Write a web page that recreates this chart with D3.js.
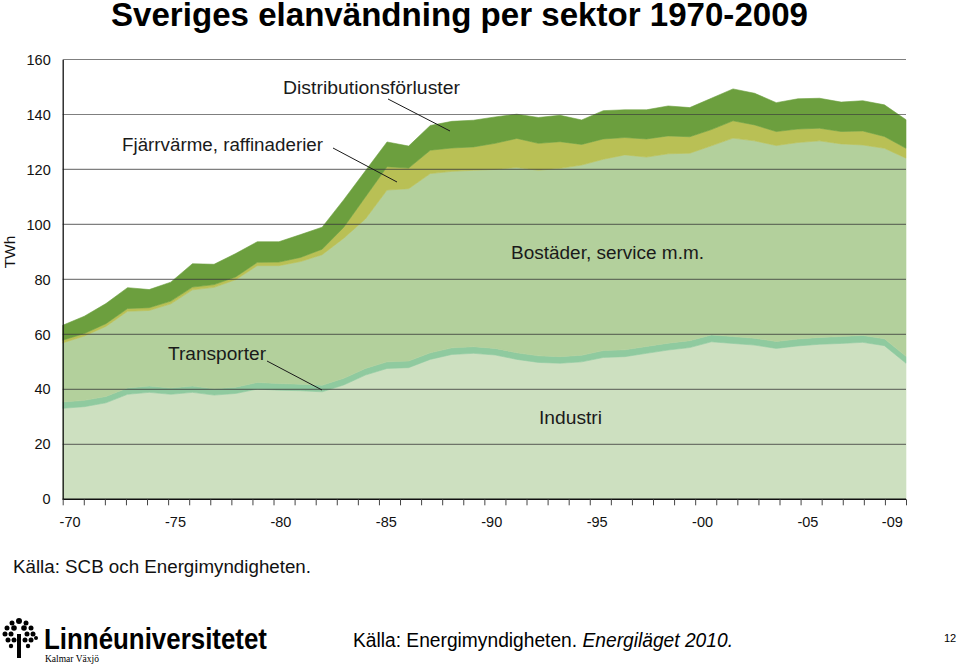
<!DOCTYPE html>
<html>
<head>
<meta charset="utf-8">
<script src="https://cdn.jsdelivr.net/npm/d3@7"></script>
<style>
  html, body { margin: 0; padding: 0; background: #fff; }
  svg { display: block; font-family: "Liberation Sans", Arial, Helvetica, sans-serif; }
</style>
</head>
<body>
<svg id="chart" width="959" height="667"></svg>
<script>
// ---------- DATA (TWh) ----------
const years = d3.range(1970, 2010);
const industri = [33.1,33.7,35.1,38.2,38.9,38.2,38.9,37.9,38.5,40.1,39.7,39.5,39.1,41.6,45.2,47.6,47.9,50.9,52.7,53.1,
                  52.5,50.9,49.8,49.5,50.0,51.6,51.9,53.1,54.3,55.2,57.3,56.7,56.1,54.9,55.8,56.4,56.7,57.1,55.9,49.5];
const transporter = [2.3,2.3,2.3,2.3,2.3,2.3,2.3,2.3,2.3,2.4,2.4,2.4,2.4,2.4,2.4,2.4,2.4,2.4,2.4,2.4,
                     2.4,2.4,2.4,2.4,2.4,2.5,2.5,2.5,2.5,2.5,2.5,2.5,2.5,2.5,2.5,2.5,2.5,2.5,2.5,2.5];
const bostader = [21.5,23.4,25.5,27.9,27.5,30.6,35.0,36.9,39.1,42.5,42.9,44.6,47.5,51.0,54.4,62.5,62.7,65.2,64.2,64.2,
                  65.1,67.4,67.5,68.5,69.2,69.6,70.9,68.9,68.9,68.2,68.8,72.2,71.8,71.3,71.5,71.5,70.1,69.3,69.3,72.1];
const fjarrvarme = [1.0,0.9,1.0,1.0,1.0,1.0,1.0,1.0,1.0,1.2,1.3,1.5,2.0,4.0,8.0,8.5,7.5,8.5,8.5,8.5,
                    9.5,10.6,9.8,9.7,7.5,7.4,6.3,6.6,6.5,6.0,5.9,6.3,5.8,5.1,4.9,4.6,4.5,5.1,4.3,3.6];
const distribution = [5.4,6.3,7.3,7.6,6.6,6.9,8.5,7.4,8.5,7.5,7.4,8.3,8.0,10.0,9.5,9.0,8.0,9.0,9.7,9.7,
                      9.6,8.8,9.4,9.6,8.9,10.3,10.1,10.6,10.9,10.6,11.4,11.6,11.5,10.5,11.0,10.9,10.7,11.0,11.5,10.4];
const seriesNames = ["Industri","Transporter","Bostäder, service m.m.","Fjärrvärme, raffinaderier","Distributionsförluster"];
const yTicks = [0,20,40,60,80,100,120,140,160];
const xTickYears = [1970,1975,1980,1985,1990,1995,2000,2005,2009];
const xTickLabels = ["-70","-75","-80","-85","-90","-95","-00","-05","-09"];

// ---------- SETUP ----------
const svg = d3.select("#chart");
const pLeft = 62.7, pRight = 906, pTop = 59.5, pBottom = 499.3;

const x = d3.scaleLinear().domain([1970, 2009]).range([pLeft, pRight]);
const xt = d3.scaleLinear().domain([1970, 2010]).range([pLeft, pRight]); // tick grid (41 marks)
const y = d3.scaleLinear().domain([0, 160]).range([pBottom, pTop]);

const keys = ["ind","tra","bos","fja","dis"];
const rows = years.map((yr, i) => ({year: yr, ind: industri[i], tra: transporter[i], bos: bostader[i], fja: fjarrvarme[i], dis: distribution[i]}));
const stacked = d3.stack().keys(keys)(rows);
const colors = {ind: "#cde0c0", tra: "#8fca9f", bos: "#b3d09c", fja: "#b9c055", dis: "#6c9f3e"};

const area = d3.area()
  .x(d => x(d.data.year))
  .y0(d => y(d[0]))
  .y1(d => y(d[1]))
  .curve(d3.curveLinear);

svg.append("g").selectAll("path").data(stacked).join("path")
  .attr("d", area)
  .attr("fill", d => colors[d.key])
  .attr("stroke", d => colors[d.key])
  .attr("stroke-width", 0.6);

// gridlines
svg.append("g").selectAll("line").data(yTicks.filter(t => t > 0)).join("line")
  .attr("x1", pLeft).attr("x2", pRight)
  .attr("y1", d => y(d)).attr("y2", d => y(d))
  .attr("stroke", "#3a3a3a").attr("stroke-opacity", 0.65).attr("stroke-width", 1.2);

// y axis
const yAxis = d3.axisLeft(y).tickValues(yTicks).tickSize(0).tickPadding(12);
const gy = svg.append("g").attr("transform", `translate(${pLeft},0)`).call(yAxis);
gy.select(".domain").attr("stroke", "#111").attr("stroke-width", 1.3);
gy.selectAll("text").attr("font-size", 14.5).attr("fill", "#111")
  .attr("font-family", "'Liberation Sans', Arial, sans-serif");

// x axis: 41 tick marks, separate labels
const xAxis = d3.axisBottom(xt).tickValues(d3.range(1970, 2011)).tickSize(6).tickFormat("");
const gx = svg.append("g").attr("transform", `translate(0,${pBottom})`).call(xAxis);
gx.select(".domain").attr("stroke", "#111").attr("stroke-width", 1.6).attr("d", `M${pLeft},0H${pRight}`);
gx.selectAll(".tick line").attr("stroke", "#444").attr("stroke-width", 1);

svg.append("g").selectAll("text").data(xTickYears).join("text")
  .attr("x", d => xt(d + 0.35))
  .attr("y", 527)
  .attr("text-anchor", "middle")
  .attr("font-size", 14.5).attr("fill", "#111")
  .text((d, i) => xTickLabels[i]);

// TWh
svg.append("text").attr("transform", "translate(15,252) rotate(-90)")
  .attr("text-anchor", "middle").attr("font-size", 15.5).attr("fill", "#111").text("TWh");

// series labels
const lab = svg.append("g").attr("fill", "#1a1a1a").attr("font-size", 17.5)
  .attr("lengthAdjust", "spacingAndGlyphs");
lab.append("text").attr("x", 283).attr("y", 94).text(seriesNames[4]).attr("textLength", 177).attr("lengthAdjust", "spacingAndGlyphs");
lab.append("text").attr("x", 122).attr("y", 151).text(seriesNames[3]).attr("textLength", 201).attr("lengthAdjust", "spacingAndGlyphs");
lab.append("text").attr("x", 511).attr("y", 259).text(seriesNames[2]).attr("textLength", 193).attr("lengthAdjust", "spacingAndGlyphs");
lab.append("text").attr("x", 168).attr("y", 360).text(seriesNames[1]).attr("textLength", 98).attr("lengthAdjust", "spacingAndGlyphs");
lab.append("text").attr("x", 539).attr("y", 424).text(seriesNames[0]).attr("textLength", 63).attr("lengthAdjust", "spacingAndGlyphs");

// leader lines
const leaders = [[388,99,450,131],[333,148,397,182],[267,361,322,390]];
svg.append("g").selectAll("line").data(leaders).join("line")
  .attr("x1", d => d[0]).attr("y1", d => d[1]).attr("x2", d => d[2]).attr("y2", d => d[3])
  .attr("stroke", "#1a1a1a").attr("stroke-width", 1);

// title
svg.append("text").attr("x", 111).attr("y", 26)
  .attr("font-size", 32.5).attr("font-weight", "bold").attr("fill", "#000")
  .attr("textLength", 697).attr("lengthAdjust", "spacingAndGlyphs")
  .text("Sveriges elanvändning per sektor 1970-2009");

// source under chart
svg.append("text").attr("x", 13).attr("y", 573).attr("font-size", 17.5).attr("fill", "#111")
  .attr("textLength", 298).attr("lengthAdjust", "spacingAndGlyphs").text("Källa: SCB och Energimyndigheten.");

// bottom source
const src = svg.append("text").attr("x", 353).attr("y", 647).attr("font-size", 20).attr("fill", "#000")
  .attr("textLength", 380).attr("lengthAdjust", "spacingAndGlyphs");
src.append("tspan").text("Källa: Energimyndigheten. ");
src.append("tspan").attr("font-style", "italic").text("Energiläget 2010.");

svg.append("text").attr("x", 944).attr("y", 642).attr("font-size", 11).attr("fill", "#000").text("12");

// logo
const logo = svg.append("g");
logo.append("rect").attr("x", 17).attr("y", 634).attr("width", 4).attr("height", 24).attr("fill", "#000");
const dots = [[19,621,3],[12,623,2.5],[26,623,2.5],[7,628,2.5],[14,628,2.8],[24,628,2.8],[31,628,2.5],
              [5,634,2.5],[11,634,2.5],[27,634,2.5],[33,634,2.5],[8,640,2.5],[14,640,2.5],[25,640,2.5],[31,640,2.5],
              [11,646,2.2],[28,646,2.2],[36,638,2]];
logo.selectAll("circle").data(dots).join("circle")
  .attr("cx", d => d[0]).attr("cy", d => d[1]).attr("r", d => d[2]).attr("fill", "#000");
logo.append("text").attr("x", 44).attr("y", 649).attr("font-size", 29).attr("font-weight", "bold")
  .attr("textLength", 223).attr("lengthAdjust", "spacingAndGlyphs").attr("fill", "#000").text("Linnéuniversitetet");
logo.append("text").attr("x", 45).attr("y", 662).attr("font-size", 9.5)
  .attr("font-family", "'Liberation Serif', 'DejaVu Serif', serif").attr("fill", "#000").text("Kalmar Växjö");
</script>
</body>
</html>
